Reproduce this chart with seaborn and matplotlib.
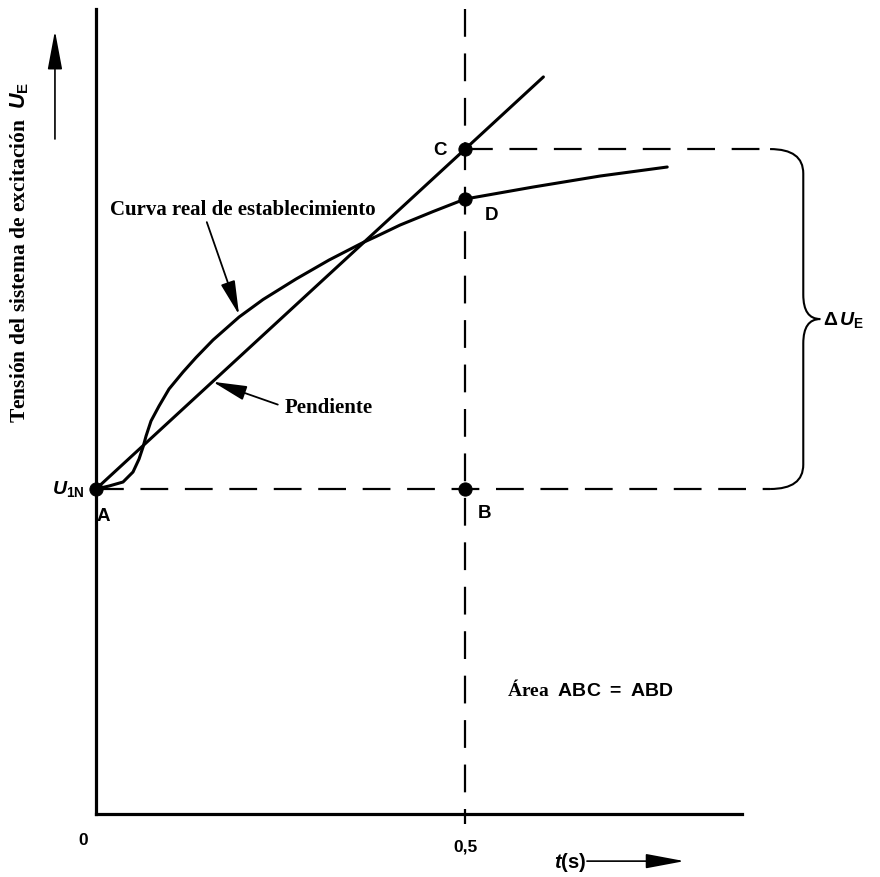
import matplotlib
matplotlib.use('Agg')
import matplotlib.pyplot as plt
import seaborn as sns
from matplotlib.path import Path
from matplotlib.patches import PathPatch

# curva real de establecimiento, t en s, U en unidades de U_1N
curve_t = [0.0, 0.0176, 0.0366, 0.0501, 0.0583, 0.0637, 0.0678, 0.0745, 0.0854,
           0.0989, 0.1179, 0.1355, 0.1585, 0.1938, 0.2263, 0.2710, 0.3157, 0.3618,
           0.3794, 0.4119, 0.4566, 0.5, 0.5921, 0.6829, 0.7737]
curve_u = [1.0, 1.0092, 1.0215, 1.0523, 1.0923, 1.1292, 1.1631, 1.2092, 1.2554,
           1.3077, 1.36, 1.4046, 1.4585, 1.5292, 1.5831, 1.6462, 1.7046, 1.7585,
           1.7769, 1.8123, 1.8538, 1.8923, 1.9292, 1.9631, 1.9908]

# pendiente
slope_t = [0.0, 0.5, 0.606]
slope_u = [1.0, 2.046, 2.268]

# puntos A, B, C, D
point_names = ['A', 'B', 'C', 'D']
point_t = [0.0, 0.5, 0.5, 0.5]
point_u = [1.0, 1.0, 2.046, 1.892]
point_offsets = [(5, -19), (14, -17), (-18, 0), (19, -11)]

t_max = 0.875
u_max = 2.477
t_dash_end = 0.913

sns.set_theme(style='white')
plt.rcParams['font.family'] = ['Liberation Sans', 'DejaVu Sans']
plt.rcParams['font.weight'] = 'bold'
plt.rcParams['text.color'] = 'black'
plt.rcParams['mathtext.fontset'] = 'custom'
plt.rcParams['mathtext.rm'] = 'Liberation Sans:bold'
plt.rcParams['mathtext.it'] = 'Liberation Sans:italic:bold'
plt.rcParams['mathtext.bf'] = 'Liberation Sans:bold'
plt.rcParams['lines.scale_dashes'] = False

fig = plt.figure(figsize=(8.8, 8.78), dpi=100)
ax = fig.add_axes([96 / 880, 63 / 878, 646 / 880, 805 / 878])
ax.set_xlim(0, t_max)
ax.set_ylim(0, u_max)

for side in ['top', 'right']:
    ax.spines[side].set_visible(False)
for side in ['left', 'bottom']:
    ax.spines[side].set_color('black')
    ax.spines[side].set_linewidth(2.3)
ax.set_xticks([])
ax.set_yticks([])

dash = (0, (20, 12))
# lineas de trazos
ax.plot([0, t_dash_end], [point_u[0], point_u[0]], color='black', lw=1.6,
        linestyle=dash, clip_on=False)
ax.plot([point_t[2], t_dash_end], [point_u[2], point_u[2]], color='black', lw=1.6,
        linestyle=(0, (20, 12)), clip_on=False)
ax.plot([0.5, 0.5], [u_max, -0.031], color='black', lw=1.6, linestyle=dash,
        clip_on=False)

sns.lineplot(x=curve_t, y=curve_u, ax=ax, color='black', lw=2.2, sort=False,
             estimator=None, solid_capstyle='round', solid_joinstyle='round')
sns.lineplot(x=slope_t, y=slope_u, ax=ax, color='black', lw=2.2, sort=False,
             estimator=None)
sns.scatterplot(x=point_t, y=point_u, ax=ax, color='black', s=90, edgecolor='black',
                zorder=5, clip_on=False)

for name, t, u, off in zip(point_names, point_t, point_u, point_offsets):
    ax.annotate(name, (t, u), xytext=off, textcoords='offset points', ha='center',
                va='center', fontsize=13.5, fontweight='bold')
ax.annotate(r'$U_{\rm 1N}$', (0, 1.0), xytext=(-8, 1), textcoords='offset points',
            ha='right', va='center', fontsize=14, annotation_clip=False)

serif = 'Liberation Serif'
ax.annotate('Curva real de establecimiento', xy=(0.1938, 1.536), xytext=(0.019, 1.862),
            fontsize=15, family=serif, fontweight='bold', va='center', ha='left',
            arrowprops=dict(arrowstyle='-|>,head_length=1.4,head_width=0.3',
                            color='black', lw=1.3, mutation_scale=15,
                            shrinkA=0, shrinkB=0, relpos=(0.36, 0.0)))
ax.annotate('Pendiente', xy=(0.158, 1.33), xytext=(0.256, 1.252),
            fontsize=15, family=serif, fontweight='bold', va='center', ha='left',
            arrowprops=dict(arrowstyle='-|>,head_length=1.4,head_width=0.3',
                            color='black', lw=1.3, mutation_scale=15,
                            shrinkA=3, shrinkB=0, relpos=(0.0, 0.5)))

ax.text(0.557, 0.385, r'Área  $\mathrm{ABC\ =\ ABD}$', fontsize=14, family=serif,
        fontweight='bold', ha='left', va='center')

# llave de Delta U_E
top, bot = point_u[2], point_u[0]
mid = (top + bot) / 2
x0, x1, xt, r = t_dash_end, 0.958, 0.981, 0.075
verts = [(x0, top), (x1, top), (x1, top - r), (x1, mid + r), (x1, mid), (xt, mid),
         (x1, mid), (x1, mid - r), (x1, bot + r), (x1, bot), (x0, bot)]
codes = [Path.MOVETO, Path.CURVE3, Path.CURVE3, Path.LINETO, Path.CURVE3, Path.CURVE3,
         Path.CURVE3, Path.CURVE3, Path.LINETO, Path.CURVE3, Path.CURVE3]
ax.add_patch(PathPatch(Path(verts, codes), fill=False, color='black', lw=1.5,
                       clip_on=False))
ax.text(0.985, mid, r'$\Delta\,U_{\rm E}$', fontsize=14, ha='left', va='center',
        clip_on=False)

# etiquetas de ejes
ax.text(-0.018, -0.077, '0', fontsize=12.5, ha='center', va='center')
ax.text(0.5, -0.098, '0,5', fontsize=12.5, ha='center', va='center')
ax.text(0.6635, -0.145, r'$t$(s)', fontsize=14.5, ha='right', va='center')
ax.annotate('', xy=(0.797, -0.145), xytext=(0.665, -0.145), annotation_clip=False,
            arrowprops=dict(arrowstyle='-|>,head_length=1.6,head_width=0.3',
                            color='black', lw=1.2, mutation_scale=15,
                            shrinkA=0, shrinkB=0))

ax.text(-0.103, 1.206, r'Tensión del sistema de excitación  $U_{\rm E}$', fontsize=15.5,
        family=serif, fontweight='bold', rotation=90, ha='center', va='bottom',
        clip_on=False)
ax.annotate('', xy=(-0.0556, 2.41), xytext=(-0.0556, 2.077), annotation_clip=False,
            arrowprops=dict(arrowstyle='-|>,head_length=1.6,head_width=0.3',
                            color='black', lw=1.2, mutation_scale=15,
                            shrinkA=0, shrinkB=0))

fig.savefig('out.png', dpi=100, facecolor='white')
